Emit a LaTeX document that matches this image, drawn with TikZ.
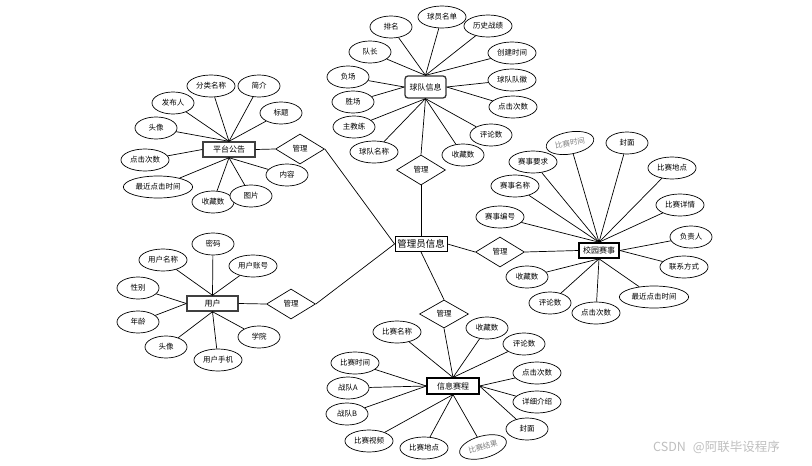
\documentclass[tikz,border=0pt]{standalone}
\usepackage{fontspec}
\setmainfont{Noto Sans CJK SC}
\usetikzlibrary{shapes.geometric}
\tikzset{
 attr/.style={ellipse, draw, line width=0.7pt, fill=white, minimum width=42pt, minimum height=22pt, inner xsep=2pt, inner ysep=2pt, font=\fontsize{7.5}{8}\selectfont},
 ent/.style={rectangle, draw, line width=1pt, fill=white, minimum height=15pt, inner sep=1pt, font=\fontsize{8}{9}\selectfont},
 rel/.style={diamond, draw, line width=0.7pt, fill=white, minimum width=49pt, minimum height=30pt, inner sep=0pt, font=\fontsize{7.5}{8}\selectfont},
 link/.style={line width=0.7pt},
 greytxt/.style={text=black!50}
}
\begin{document}
\begin{tikzpicture}[x=1pt,y=-1pt]
\fill[white] (0,0) rectangle (812,466);
\useasboundingbox (0,0) rectangle (812,466);

% ---------- centre ----------
\node[ent, line width=0.9pt, minimum width=52pt, font=\fontsize{9.5}{10}\selectfont] (adm) at (421,244) {管理员信息};

% ---------- platform announcement ----------
\node[ent, draw=black!75, line width=1.4pt, minimum width=52pt] (pt) at (229,149.5) {平台公告};
\node[attr] (p1) at (211,86) {分类名称};
\node[attr] (p2) at (259,86) {简介};
\node[attr] (p3) at (173,103) {发布人};
\node[attr] (p4) at (281,113) {标题};
\node[attr] (p5) at (156,128) {头像};
\node[attr] (p6) at (145,160) {点击次数};
\node[attr] (p7) at (158,187) {最近点击时间};
\node[attr] (p8) at (213,202) {收藏数};
\node[attr] (p9) at (251,196) {图片};
\node[attr] (p10) at (287,175) {内容};
\node[rel] (pr) at (300,149) {管理};
\foreach \a in {p1,p2,p3,p4,p5} \draw[link] (\a) -- (pt.north);
\draw[link] (p6) -- (pt.west);
\foreach \a in {p7,p8,p9,p10} \draw[link] (\a) -- (pt.south);
\draw[link] (pt.east) -- (pr.west);
\draw[link] (pr.east) -- (adm.west);

% ---------- team info ----------
\node[ent, rounded corners=3pt, draw=black!80, line width=1.3pt, minimum width=41pt, minimum height=22pt] (team) at (425.5,87) {球队信息};
\node[attr] (t1) at (391,27) {排名};
\node[attr] (t2) at (442,17) {球员名单};
\node[attr] (t3) at (488,26) {历史战绩};
\node[attr] (t4) at (370,52) {队长};
\node[attr] (t5) at (512,53) {创建时间};
\node[attr] (t6) at (348,77) {负场};
\node[attr] (t7) at (512,80) {球队队徽};
\node[attr] (t8) at (353,102) {胜场};
\node[attr] (t9) at (513,107) {点击次数};
\node[attr] (t10) at (354,127) {主教练};
\node[attr] (t11) at (491,135) {评论数};
\node[attr] (t12) at (374,152) {球队名称};
\node[attr] (t13) at (463,155) {收藏数};
\node[rel] (tr) at (421,170) {管理};
\foreach \a in {t1,t2,t3,t4,t5} \draw[link] (\a) -- (team.north);
\foreach \a in {t6,t8} \draw[link] (\a) -- (team.west);
\foreach \a in {t7,t9} \draw[link] (\a) -- (team.east);
\foreach \a in {t10,t11,t12,t13} \draw[link] (\a) -- (team.south);
\draw[link] (team.south) -- (tr.north);
\draw[link] (tr.south) -- (adm.north);

% ---------- campus events ----------
\node[ent, line width=1.6pt, minimum width=40pt] (cs) at (599,250.5) {校园赛事};
\node[attr] (c1) at (533,162) {赛事要求};
\node[attr, greytxt, rotate=10] (c2) at (570,143) {比赛时间};
\node[attr] (c3) at (627,143) {封面};
\node[attr] (c4) at (672,168) {比赛地点};
\node[attr] (c5) at (515,186) {赛事名称};
\node[attr] (c6) at (680,205) {比赛详情};
\node[attr] (c7) at (500,217) {赛事编号};
\node[attr] (c8) at (691,237) {负责人};
\node[attr] (c9) at (684,267) {联系方式};
\node[attr] (c10) at (527,277) {收藏数};
\node[attr] (c11) at (550,303) {评论数};
\node[attr] (c12) at (596,313) {点击次数};
\node[attr] (c13) at (654,297) {最近点击时间};
\node[rel] (cr) at (500,252) {管理};
\foreach \a in {c1,c2,c3,c4,c5,c6,c7} \draw[link] (\a) -- (cs.north);
\foreach \a in {c8,c9} \draw[link] (\a) -- (cs.east);
\foreach \a in {c10,c11,c12,c13} \draw[link] (\a) -- (cs.south);
\draw[link] (adm.east) -- (cr.west);
\draw[link] (cr.east) -- (cs.west);

% ---------- user ----------
\node[ent, draw=black!75, line width=1.4pt, minimum width=51pt] (user) at (212.5,303.5) {用户};
\node[attr] (u1) at (213,244) {密码};
\node[attr] (u2) at (163,260) {用户名称};
\node[attr] (u3) at (253,266) {用户账号};
\node[attr] (u4) at (138,288) {性别};
\node[attr] (u5) at (138,322) {年龄};
\node[attr] (u6) at (166,347) {头像};
\node[attr] (u7) at (218,360) {用户手机};
\node[attr] (u8) at (259,337) {学院};
\node[rel] (ur) at (291,304) {管理};
\foreach \a in {u1,u2,u3} \draw[link] (\a) -- (user.north);
\foreach \a in {u4,u5} \draw[link] (\a) -- (user.west);
\foreach \a in {u6,u7,u8} \draw[link] (\a) -- (user.south);
\draw[link] (user.east) -- (ur.west);
\draw[link] (ur.east) -- (adm.west);

% ---------- match schedule ----------
\node[ent, line width=1.1pt, minimum width=52pt, minimum height=16pt] (match) at (453,386) {信息赛程};
\node[attr] (m1) at (397,332) {比赛名称};
\node[attr] (m2) at (487,328) {收藏数};
\node[attr] (m3) at (524,344) {评论数};
\node[attr] (m4) at (355,363) {比赛时间};
\node[attr] (m5) at (537,373) {点击次数};
\node[attr] (m6) at (348,388) {战队A};
\node[attr] (m7) at (537,402) {详细介绍};
\node[attr] (m8) at (347,414) {战队B};
\node[attr] (m9) at (527,429) {封面};
\node[attr] (m10) at (369,441) {比赛视频};
\node[attr] (m11) at (424,448) {比赛地点};
\node[attr, greytxt, rotate=15] (m12) at (483,447) {比赛结果};
\node[rel, minimum height=28pt] (mr) at (444,314) {管理};
\foreach \a in {m1,m2,m3} \draw[link] (\a) -- (match.north);
\foreach \a in {m4,m6,m8} \draw[link] (\a) -- (match.west);
\foreach \a in {m5,m7,m9} \draw[link] (\a) -- (match.east);
\foreach \a in {m10,m11,m12} \draw[link] (\a) -- (match.south);
\draw[link] (adm.south) -- (mr.north);
\draw[link] (mr.south) -- (match.north);

% ---------- watermark ----------
\node[text=black!25, font=\fontsize{12.5}{13}\selectfont, anchor=west, inner sep=0pt] (wm) at (653,447) {CSDN\hspace{7pt}@阿联毕设程序};
\end{tikzpicture}
\end{document}
